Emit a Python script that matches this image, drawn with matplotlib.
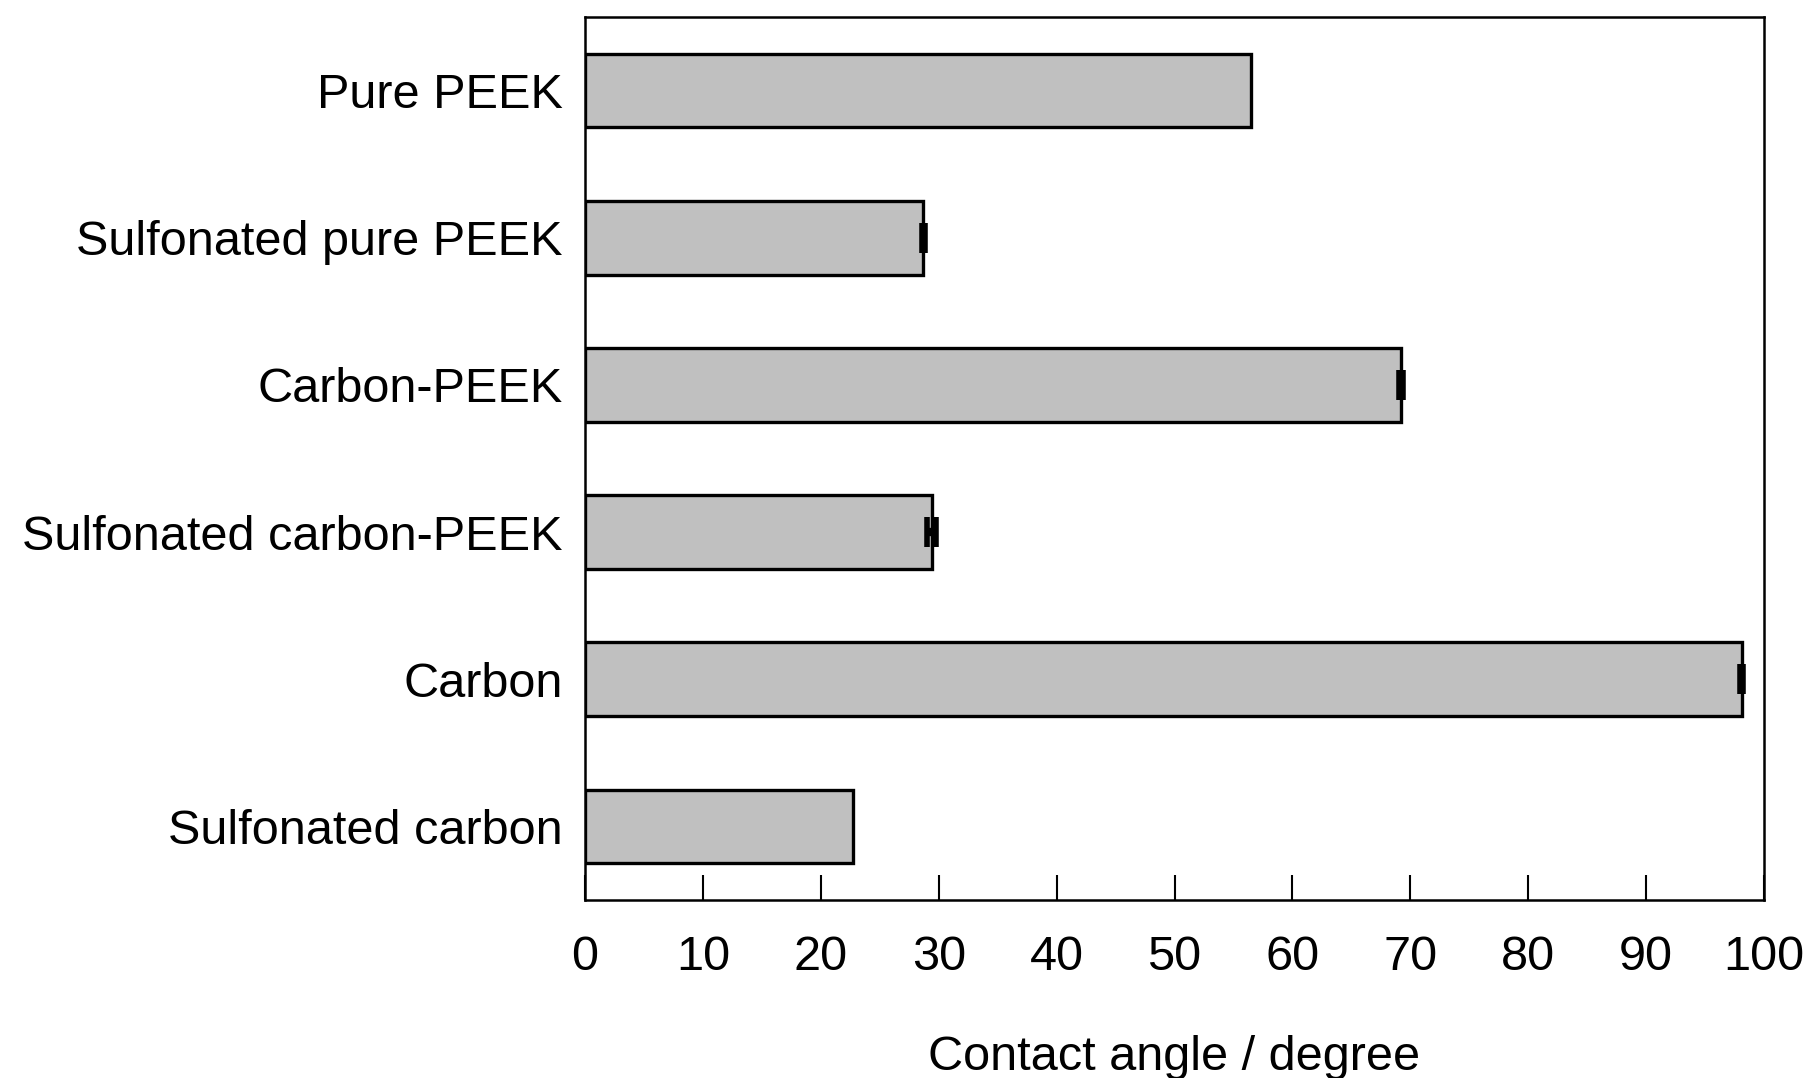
import matplotlib
matplotlib.use('Agg')
import matplotlib.pyplot as plt

plt.rcParams['font.family'] = ['Liberation Sans', 'DejaVu Sans']

samples = ['Pure PEEK', 'Sulfonated pure PEEK', 'Carbon-PEEK',
           'Sulfonated carbon-PEEK', 'Carbon', 'Sulfonated carbon']
angles = [56.5, 28.7, 69.2, 29.4, 98.1, 22.7]
errors = [0.0, 0.1, 0.2, 0.4, 0.15, 0.0]

fig = plt.figure(figsize=(18.1, 10.78), dpi=100)
ax = fig.add_axes([0.3232, 0.1651, 0.6514, 0.8191])

pos = range(len(samples))
ax.barh(pos, angles, height=0.5, color='#c0c0c0', edgecolor='black', linewidth=2.4)
for y, v, e in zip(pos, angles, errors):
    if e > 0:
        ax.errorbar(v, y, xerr=e, fmt='none', ecolor='black',
                    elinewidth=6, capsize=11, capthick=4)

ax.set_xlim(0, 100)
ax.set_ylim(5.5, -0.5)
ax.set_yticks(list(pos))
ax.set_yticklabels(samples)
ax.set_xticks(range(0, 101, 10))

ax.tick_params(axis='y', length=0, pad=16, labelsize=35)
ax.tick_params(axis='x', direction='in', length=18, width=1.5, pad=25, labelsize=35)
for s in ax.spines.values():
    s.set_linewidth(1.8)

ax.set_xlabel('Contact angle / degree', fontsize=35, labelpad=40)

fig.savefig('out.png', dpi=100)
